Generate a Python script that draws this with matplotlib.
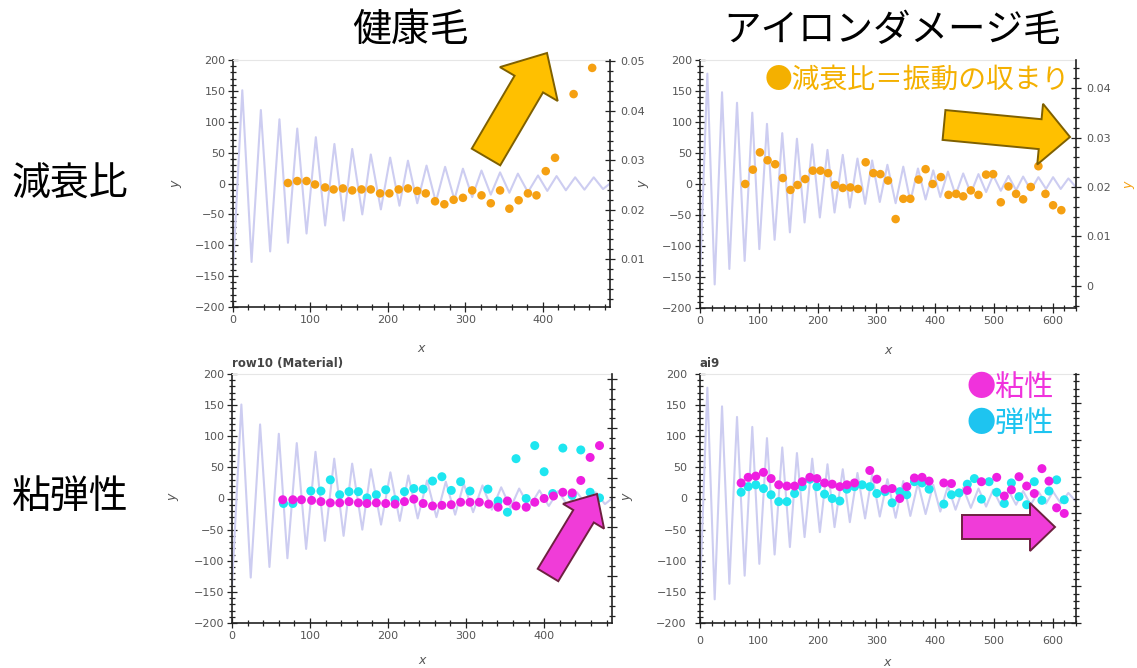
import matplotlib
matplotlib.use("Agg")
import matplotlib.pyplot as plt
from matplotlib.patches import FancyArrow
from matplotlib.ticker import MultipleLocator, FuncFormatter

# decaying oscillation, extrema (x, y)
healthy_wave_x = [0, 12, 24, 36, 48, 60, 71, 83, 95, 107, 119, 131, 143, 154, 167, 178,
                  191, 203, 215, 226, 238, 250, 262, 274, 286, 297, 309, 321, 333, 345,
                  357, 368, 381, 394, 406, 418, 430, 442, 454, 466, 478, 487]
healthy_wave_y = [-140, 151, -127, 119, -110, 104, -96, 89, -81, 75, -68, 64, -60, 56, -50, 47,
                  -42, 42, -36, 37, -32, 29, -30, 27, -26, 24, -22, 21, -18, 18,
                  -15, 16, -14, 13, -12, 12, -11, 10, -10, 10, -9, 0]
damaged_wave_x = [0, 12.5, 25, 37.5, 50, 63, 76, 89, 101, 114, 127, 140, 153, 165, 178, 191,
                  204, 217, 229, 243, 255, 268, 281, 293, 306, 319, 333, 346, 358, 371,
                  384, 397, 409, 422, 435, 448, 461, 474, 487, 499, 512, 525, 538, 550,
                  563, 576, 589, 601, 614, 627, 640]
damaged_wave_y = [-150, 178, -162, 148, -137, 131, -124, 115, -105, 97, -90, 82, -78, 73, -62, 64,
                  -54, 55, -46, 47, -38, 41, -32, 38, -29, 31, -31, 28, -28, 25,
                  -25, 22, -21, 20, -18, 17, -15, 16, -13, 14, -11, 13, -10, 12,
                  -10, 11, -8, 11, -8, 9, -5]

# damping ratio (right axis)
healthy_damp_x = [71, 83, 95, 106, 119, 130, 142, 154, 166, 178, 190, 202, 214, 226, 238, 249,
                  261, 273, 285, 297, 309, 321, 333, 345, 357, 369, 381, 392, 404, 416, 440, 464]
healthy_damp = [0.0254, 0.0258, 0.0258, 0.0251, 0.0245, 0.0241, 0.0243, 0.0239, 0.0241, 0.0241,
                0.0233, 0.0233, 0.0241, 0.0243, 0.0238, 0.0233, 0.0217, 0.0211, 0.0220, 0.0224,
                0.0239, 0.0229, 0.0213, 0.0239, 0.0202, 0.0219, 0.0233, 0.0229, 0.0278, 0.0305,
                0.0434, 0.0487]
damaged_damp_x = [77, 90, 102, 115, 128, 141, 154, 166, 179, 192, 205, 218, 230, 243, 256, 269,
                  282, 295, 307, 320, 333, 346, 358, 372, 384, 396, 410, 423, 436, 448, 461,
                  474, 487, 499, 512, 525, 538, 550, 563, 576, 588, 601, 615]
damaged_damp = [0.0206, 0.0235, 0.0270, 0.0254, 0.0246, 0.0218, 0.0194, 0.0204, 0.0216, 0.0233,
                0.0233, 0.0228, 0.0204, 0.0198, 0.0199, 0.0196, 0.0250, 0.0228, 0.0226, 0.0213,
                0.0135, 0.0176, 0.0176, 0.0215, 0.0236, 0.0206, 0.0220, 0.0184, 0.0186, 0.0181,
                0.0193, 0.0184, 0.0225, 0.0226, 0.0169, 0.0201, 0.0186, 0.0175, 0.0200, 0.0242,
                0.0186, 0.0163, 0.0153]

# viscosity / elasticity
healthy_visc_x = [65, 78, 89, 102, 114, 126, 138, 150, 162, 173, 185, 197, 209, 221, 233, 245,
                  257, 269, 281, 293, 305, 317, 329, 341, 353, 364, 377, 388, 400, 412, 424,
                  436, 447, 459, 471]
healthy_visc = [-2, -2, -2, -3, -5, -7, -7, -5, -7, -8, -7, -8, -9, -5, -1, -8,
                -12, -11, -10, -6, -6, -6, -9, -14, -4, -12, -14, -6, 0, 4, 10,
                9, 29, 66, 85]
healthy_elast_x = [66, 78, 101, 114, 126, 138, 150, 162, 173, 185, 197, 209, 221, 233, 245, 257,
                   269, 281, 293, 305, 328, 341, 353, 364, 377, 388, 400, 411, 424, 436, 447,
                   459, 471]
healthy_elast = [-8, -8, 12, 12, 30, 6, 11, 11, 1, 6, 14, -2, 11, 16, 15, 28,
                 35, 13, 27, 12, 15, -4, -22, 64, 0, 85, 43, 8, 81, 5, 78,
                 10, 1]
damaged_visc_x = [70, 82, 95, 108, 121, 134, 148, 161, 174, 187, 199, 212, 225, 238, 250, 263,
                  289, 301, 315, 327, 340, 352, 365, 378, 390, 415, 428, 455, 479, 505,
                  518, 530, 543, 556, 569, 582, 594, 607, 620]
damaged_visc = [25, 34, 36, 42, 32, 22, 20, 20, 27, 34, 32, 25, 23, 19, 22, 25,
                45, 31, 15, 16, 0, 19, 33, 34, 28, 25, 24, 13, 27, 34,
                4, 14, 35, 20, 8, 48, 28, -15, -24]
damaged_elast_x = [70, 82, 95, 108, 121, 134, 148, 161, 174, 187, 199, 212, 225, 238, 250, 263,
                   276, 289, 301, 315, 327, 340, 352, 365, 378, 390, 415, 428, 441, 455, 467,
                   479, 492, 505, 518, 530, 543, 556, 569, 582, 594, 607, 620]
damaged_elast = [10, 19, 22, 16, 6, -5, -5, 8, 19, 31, 19, 7, 0, -4, 15, 19,
                 22, 19, 8, 11, -7, 11, 6, 27, 25, 15, -9, 6, 9, 23, 32,
                 -1, 27, 10, -8, 25, 3, -10, 27, -3, 12, 30, -2]

JP = ["Noto Sans CJK JP", "DejaVu Sans"]
WAVE = "#cdcdf1"
ORANGE = "#f5a012"
MAGENTA = "#ee1ee0"
CYAN = "#1ee6f0"

fig = plt.figure(figsize=(11.37, 6.68), dpi=100)
W, H = 1137, 668


def px_axes(left, top, right, bottom):
    return fig.add_axes([left / W, 1 - bottom / H, (right - left) / W, (bottom - top) / H])


def style_axis(ax, xmax):
    ax.set_xlim(0, xmax)
    ax.set_ylim(-200, 200)
    ax.xaxis.set_major_locator(MultipleLocator(100))
    ax.xaxis.set_minor_locator(MultipleLocator(20))
    ax.yaxis.set_major_locator(MultipleLocator(50))
    ax.yaxis.set_minor_locator(MultipleLocator(10))
    ax.tick_params(which="both", direction="inout", color="#222222",
                   labelcolor="#555555", labelsize=8, width=0.9)
    ax.tick_params(which="major", length=7, pad=2)
    ax.tick_params(which="minor", length=4)
    ax.spines["top"].set_color("#e6e6e6")
    ax.spines["right"].set_visible(False)
    for s in ("left", "bottom"):
        ax.spines[s].set_color("#222222")
        ax.spines[s].set_linewidth(1.2)


def style_twin(tw, lo, hi, major, labels=True):
    tw.set_ylim(lo, hi)
    tw.yaxis.set_major_locator(MultipleLocator(major))
    tw.yaxis.set_minor_locator(MultipleLocator(major / 5))
    tw.yaxis.set_major_formatter(FuncFormatter(lambda v, p: "0" if abs(v) < 1e-9 else f"{v:.2f}"))
    tw.tick_params(which="both", direction="inout", color="#222222",
                   labelcolor="#555555", labelsize=8, width=0.9, labelright=labels)
    tw.tick_params(which="major", length=7, pad=4)
    tw.tick_params(which="minor", length=4)
    for s in ("top", "left", "bottom"):
        tw.spines[s].set_visible(False)
    tw.spines["right"].set_color("#222222")
    tw.spines["right"].set_linewidth(1.2)


# top-left: healthy hair, damping ratio
ax1 = px_axes(233, 60, 610, 307)
ax1.plot(healthy_wave_x, healthy_wave_y, color=WAVE, lw=1.5)
style_axis(ax1, 487)
tw1 = ax1.twinx()
tw1.scatter(healthy_damp_x, healthy_damp, s=38, color=ORANGE, edgecolors="none")
style_twin(tw1, 0.0003, 0.0503, 0.01)

# top-right: iron damaged hair, damping ratio
ax2 = px_axes(700, 60, 1076, 308)
ax2.plot(damaged_wave_x, damaged_wave_y, color=WAVE, lw=1.5)
style_axis(ax2, 640)
tw2 = ax2.twinx()
tw2.scatter(damaged_damp_x, damaged_damp, s=38, color=ORANGE, edgecolors="none")
style_twin(tw2, -0.0045, 0.0457, 0.01)

# bottom-left: healthy hair, viscoelasticity
ax3 = px_axes(232, 374, 612, 623)
ax3.plot(healthy_wave_x, healthy_wave_y, color=WAVE, lw=1.5)
ax3.scatter(healthy_elast_x, healthy_elast, s=42, color=CYAN, edgecolors="none", zorder=3)
ax3.scatter(healthy_visc_x, healthy_visc, s=42, color=MAGENTA, edgecolors="none", zorder=3)
style_axis(ax3, 487)
ax3.set_title("row10 (Material)", loc="left", fontsize=8.5, fontweight="bold",
              color="#444444", pad=5)
tw3 = ax3.twinx()
style_twin(tw3, 0.0005, 0.051, 0.01, labels=False)

# bottom-right: iron damaged hair, viscoelasticity
ax4 = px_axes(700, 374, 1076, 623)
ax4.plot(damaged_wave_x, damaged_wave_y, color=WAVE, lw=1.5)
ax4.scatter(damaged_elast_x, damaged_elast, s=42, color=CYAN, edgecolors="none", zorder=3)
ax4.scatter(damaged_visc_x, damaged_visc, s=42, color=MAGENTA, edgecolors="none", zorder=3)
style_axis(ax4, 640)
ax4.tick_params(which="major", pad=6)
ax4.set_title("ai9", loc="left", fontsize=8.5, fontweight="bold", color="#444444", pad=5)
tw4 = ax4.twinx()
style_twin(tw4, 0.0, 0.034, 0.005, labels=False)

# overlay in pixel coordinates for slide text and arrows
ov = fig.add_axes([0, 0, 1, 1], facecolor="none")
ov.set_xlim(0, W)
ov.set_ylim(H, 0)
ov.axis("off")

ov.text(410, 30, "健康毛", fontsize=28, family=JP, ha="center", va="center")
ov.text(892, 30, "アイロンダメージ毛", fontsize=27, family=JP, ha="center", va="center")
ov.text(70, 185, "減衰比", fontsize=28, family=JP, ha="center", va="center")
ov.text(70, 497, "粘弾性", fontsize=28, family=JP, ha="center", va="center")
ov.text(917, 80, "●減衰比＝振動の収まり", fontsize=20, family=JP, color="#f4b000",
        ha="center", va="center")
ov.text(1010, 388, "●粘性", fontsize=21, family=JP, color="#f032dc", ha="center", va="center")
ov.text(1010, 424, "●弾性", fontsize=21, family=JP, color="#1ec4f0", ha="center", va="center")

lab = dict(fontsize=9, color="#555555", style="italic", ha="center", va="center")
ov.text(421, 348, "x", **lab)
ov.text(888, 350, "x", **lab)
ov.text(422, 660, "x", **lab)
ov.text(887, 662, "x", **lab)
ov.text(176, 184, "y", rotation=90, **lab)
ov.text(643, 184, "y", rotation=90, **lab)
ov.text(173, 497, "y", rotation=90, **lab)
ov.text(627, 497, "y", rotation=90, **lab)
ov.text(1129, 185, "y", rotation=90, fontsize=9, color=ORANGE, style="italic",
        ha="center", va="center")

arrow_kw = dict(length_includes_head=True, lw=1.4)
ov.add_patch(FancyArrow(486, 157, 61, -104, width=33, head_width=67, head_length=36,
                        fc="#ffc000", ec="#7f6000", **arrow_kw))
ov.add_patch(FancyArrow(944, 125, 126, 12, width=30, head_width=61, head_length=30,
                        fc="#ffc000", ec="#7f6000", **arrow_kw))
ov.add_patch(FancyArrow(548, 575, 49, -81, width=24, head_width=48, head_length=26,
                        fc="#f03cd8", ec="#6e2040", **arrow_kw))
ov.add_patch(FancyArrow(962, 527, 93, 0, width=24, head_width=48, head_length=25,
                        fc="#f03cd8", ec="#6e2040", **arrow_kw))

fig.savefig("out.png", dpi=100)
